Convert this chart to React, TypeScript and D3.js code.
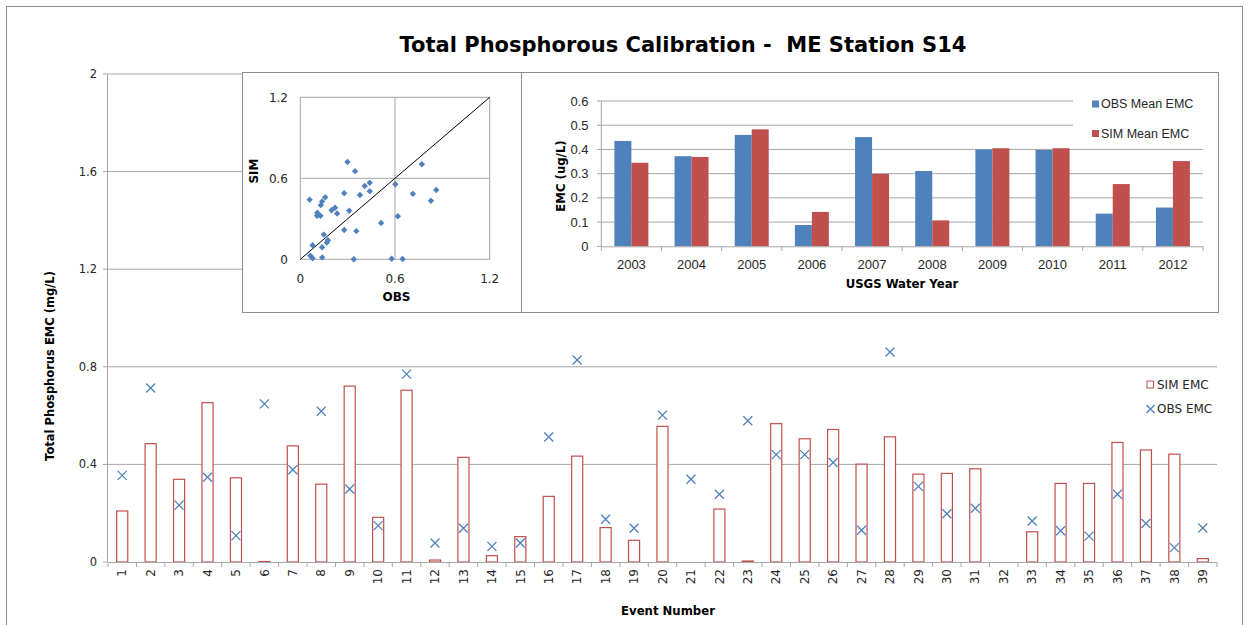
import * as d3 from 'd3'

// event-level EMC values (mg/L)
const events = d3.range(1, 40)
const simEMC: (number | null)[] = [
  0.209, 0.485, 0.339, 0.653, 0.345, 0.002, 0.476, 0.319, 0.721, 0.183,
  0.704, 0.008, 0.429, 0.026, 0.104, 0.269, 0.434, 0.141, 0.089, 0.556,
  0, 0.217, 0.004, 0.567, 0.505, 0.543, 0.401, 0.513, 0.36, 0.363,
  0.382, null, 0.124, 0.322, 0.322, 0.49, 0.459, 0.442, 0.014,
]
const obsEMC: (number | null)[] = [
  0.355, 0.713, 0.233, 0.347, 0.108, 0.648, 0.378, 0.618, 0.299, 0.149,
  0.77, 0.078, 0.138, 0.064, 0.078, 0.512, 0.828, 0.175, 0.138, 0.602,
  0.339, 0.278, 0.579, 0.44, 0.44, 0.408, 0.13, 0.861, 0.31, 0.198,
  0.22, null, 0.168, 0.128, 0.106, 0.278, 0.158, 0.059, 0.139,
]
const mainTicks = [0, 0.4, 0.8, 1.2, 1.6, 2]

// yearly means
const years = [2003, 2004, 2005, 2006, 2007, 2008, 2009, 2010, 2011, 2012]
const obsMean = [0.435, 0.372, 0.46, 0.088, 0.451, 0.311, 0.4, 0.398, 0.135, 0.16]
const simMean = [0.345, 0.369, 0.483, 0.142, 0.299, 0.107, 0.405, 0.405, 0.257, 0.352]
const meanTicks = [0, 0.1, 0.2, 0.3, 0.4, 0.5, 0.6]

const scatterTicks = [0, 0.6, 1.2]

const BLUE = '#4F81BD'
const RED = '#C0504D'
const GRID = '#a6a6a6'
const TXT = '#262626'
const VERD = "'DejaVu Sans', Verdana, sans-serif"
const ARIAL = "'Liberation Sans', Arial, sans-serif"

export default function App() {
  // main chart
  const mx = d3.scaleBand<number>().domain(events).range([108, 1217])
  const my = d3.scaleLinear().domain([0, 2]).range([562, 74])
  const barW = mx.bandwidth() * 0.39

  // scatter inset
  const sx = d3.scaleLinear().domain([0, 1.2]).range([300.3, 489.7])
  const sy = d3.scaleLinear().domain([0, 1.2]).range([259.3, 97.3])
  const pairs = events
    .map((e, i) => ({ e, obs: obsEMC[i], sim: simEMC[i] }))
    .filter((d) => d.obs != null && d.sim != null)

  // yearly bar inset
  const bx = d3.scaleBand<number>().domain(years).range([601.3, 1203])
  const sub = d3.scaleBand<string>().domain(['OBS', 'SIM']).range([0, bx.bandwidth()]).paddingOuter(0.77)
  const by = d3.scaleLinear().domain([0, 0.6]).range([246.3, 101])

  const cross = (x: number, y: number, r = 4.5) => `M${x - r},${y - r}L${x + r},${y + r}M${x - r},${y + r}L${x + r},${y - r}`

  return (
    <svg width={1249} height={625} style={{ position: 'absolute', left: 0, top: 0, display: 'block', background: '#fff' }}>
      <rect x={6.5} y={6.5} width={1236} height={660} fill="#fff" stroke="#8c8c8c" />

      <text x={683} y={52} textAnchor="middle" fontFamily={VERD} fontWeight="bold" fontSize={21} fill="#000" style={{ whiteSpace: 'pre' }}>
        {'Total Phosphorous Calibration -  ME Station S14'}
      </text>

      {/* main gridlines + y axis */}
      {mainTicks.map((t) => (
        <g key={t}>
          {t > 0 && <line x1={108} x2={1217} y1={my(t)} y2={my(t)} stroke={GRID} />}
          <line x1={103} x2={108} y1={my(t)} y2={my(t)} stroke={GRID} />
          <text x={97} y={my(t)} dy="0.35em" textAnchor="end" fontFamily={VERD} fontSize={11.5} fill={TXT}>{t}</text>
        </g>
      ))}
      <line x1={107.5} x2={107.5} y1={74} y2={562} stroke={GRID} />

      {/* SIM bars */}
      {events.map((e, i) =>
        !simEMC[i] ? null : (
          <rect key={e} x={mx(e)! + (mx.bandwidth() - barW) / 2} y={my(simEMC[i]!)} width={barW}
            height={Math.max(my(0) - my(simEMC[i]!), 0.5)} fill="#fff" stroke={RED} strokeWidth={1.2} />
        ))}
      {/* OBS crosses */}
      {events.map((e, i) =>
        obsEMC[i] == null ? null : (
          <path key={e} d={cross(mx(e)! + mx.bandwidth() / 2, my(obsEMC[i]!))} stroke={BLUE} strokeWidth={1.3} fill="none" />
        ))}

      {/* x axis */}
      <line x1={108} x2={1217} y1={562.5} y2={562.5} stroke={GRID} />
      {events.map((e) => (
        <g key={e}>
          <line x1={mx(e)!} x2={mx(e)!} y1={562} y2={567} stroke={GRID} />
          <text transform={`translate(${mx(e)! + mx.bandwidth() / 2},569) rotate(-90)`} textAnchor="end" dy="0.35em"
            fontFamily={VERD} fontSize={12} fill={TXT}>{e}</text>
        </g>
      ))}
      <line x1={1217} x2={1217} y1={562} y2={567} stroke={GRID} />

      <text transform="translate(50,366) rotate(-90)" textAnchor="middle" dy="0.35em" fontFamily={VERD} fontWeight="bold" fontSize={11.5} fill="#000">
        Total Phosphorus EMC (mg/L)
      </text>
      <text x={668} y={611} textAnchor="middle" dy="0.35em" fontFamily={VERD} fontWeight="bold" fontSize={11.7} fill="#000">Event Number</text>

      {/* main legend */}
      <rect x={1147} y={381} width={6.5} height={7} fill="#fff" stroke={RED} />
      <text x={1157} y={385} dy="0.35em" fontFamily={VERD} fontSize={12} fill={TXT}>SIM EMC</text>
      <path d={cross(1150.5, 409, 4)} stroke={BLUE} strokeWidth={1.3} />
      <text x={1157} y={409} dy="0.35em" fontFamily={VERD} fontSize={12} fill={TXT}>OBS EMC</text>

      {/* scatter inset */}
      <rect x={242.5} y={72.5} width={279} height={240} fill="#fff" stroke="#8c8c8c" />
      <rect x={sx(0)} y={sy(1.2)} width={sx(1.2) - sx(0)} height={sy(0) - sy(1.2)} fill="none" stroke={GRID} />
      <line x1={sx(0.6)} x2={sx(0.6)} y1={sy(0)} y2={sy(1.2)} stroke={GRID} />
      <line x1={sx(0)} x2={sx(1.2)} y1={sy(0.6)} y2={sy(0.6)} stroke={GRID} />
      <line x1={sx(0)} x2={sx(1.2)} y1={sy(0)} y2={sy(1.2)} stroke="#000" />
      {pairs.map((d) => {
        const x = sx(d.obs!), y = sy(d.sim!)
        return <path key={d.e} d={`M${x},${y - 3.2}L${x + 3.2},${y}L${x},${y + 3.2}L${x - 3.2},${y}Z`} fill={BLUE} />
      })}
      {scatterTicks.map((t) => (
        <g key={t}>
          <text x={288} y={sy(t)} dy="0.35em" textAnchor="end" fontFamily={VERD} fontSize={12} fill={TXT}>{t}</text>
          <text x={sx(t)} y={278.5} dy="0.35em" textAnchor="middle" fontFamily={VERD} fontSize={12} fill={TXT}>{t}</text>
        </g>
      ))}
      <text transform="translate(254,171) rotate(-90)" textAnchor="middle" dy="0.35em" fontFamily={VERD} fontWeight="bold" fontSize={12} fill="#000">SIM</text>
      <text x={396.5} y={296.5} textAnchor="middle" dy="0.35em" fontFamily={VERD} fontWeight="bold" fontSize={12} fill="#000">OBS</text>

      {/* yearly mean inset */}
      <rect x={521.5} y={72.5} width={697} height={240} fill="#fff" stroke="#8c8c8c" />
      {meanTicks.map((t) => (
        <g key={t}>
          {t > 0 && <line x1={601.3} x2={t >= 0.5 ? 1073 : 1203} y1={by(t)} y2={by(t)} stroke={GRID} />}
          <line x1={597} x2={601.3} y1={by(t)} y2={by(t)} stroke={GRID} />
          <text x={588.5} y={by(t)} dy="0.35em" textAnchor="end" fontFamily={ARIAL} fontSize={13} fill={TXT}>{t}</text>
        </g>
      ))}
      {years.map((yr, i) => (
        <g key={yr}>
          <rect x={bx(yr)! + sub('OBS')!} y={by(obsMean[i])} width={sub.bandwidth()} height={by(0) - by(obsMean[i])} fill={BLUE} />
          <rect x={bx(yr)! + sub('SIM')!} y={by(simMean[i])} width={sub.bandwidth()} height={by(0) - by(simMean[i])} fill={RED} />
          <line x1={bx(yr)!} x2={bx(yr)!} y1={246.3} y2={251} stroke={GRID} />
          <text x={bx(yr)! + bx.bandwidth() / 2} y={264.3} dy="0.35em" textAnchor="middle" fontFamily={ARIAL} fontSize={13} fill={TXT}>{yr}</text>
        </g>
      ))}
      <line x1={1203} x2={1203} y1={246.3} y2={251} stroke={GRID} />
      <line x1={601.3} x2={1203} y1={246.8} y2={246.8} stroke={GRID} />
      <line x1={601.3} x2={601.3} y1={101} y2={247} stroke={GRID} />
      <text transform="translate(561,176) rotate(-90)" textAnchor="middle" dy="0.35em" fontFamily={VERD} fontWeight="bold" fontSize={11.7} fill="#000">
        {'EMC  (ug/L)'}
      </text>
      <text x={902} y={283.5} textAnchor="middle" dy="0.35em" fontFamily={VERD} fontWeight="bold" fontSize={11.7} fill="#000">USGS Water Year</text>
      <rect x={1092} y={100.5} width={7} height={7} fill={BLUE} />
      <text x={1101} y={104} dy="0.35em" fontFamily={ARIAL} fontSize={12.5} fill={TXT}>OBS Mean EMC</text>
      <rect x={1092} y={130} width={7} height={7} fill={RED} />
      <text x={1101} y={133.5} dy="0.35em" fontFamily={ARIAL} fontSize={12.5} fill={TXT}>SIM Mean EMC</text>
    </svg>
  )
}
